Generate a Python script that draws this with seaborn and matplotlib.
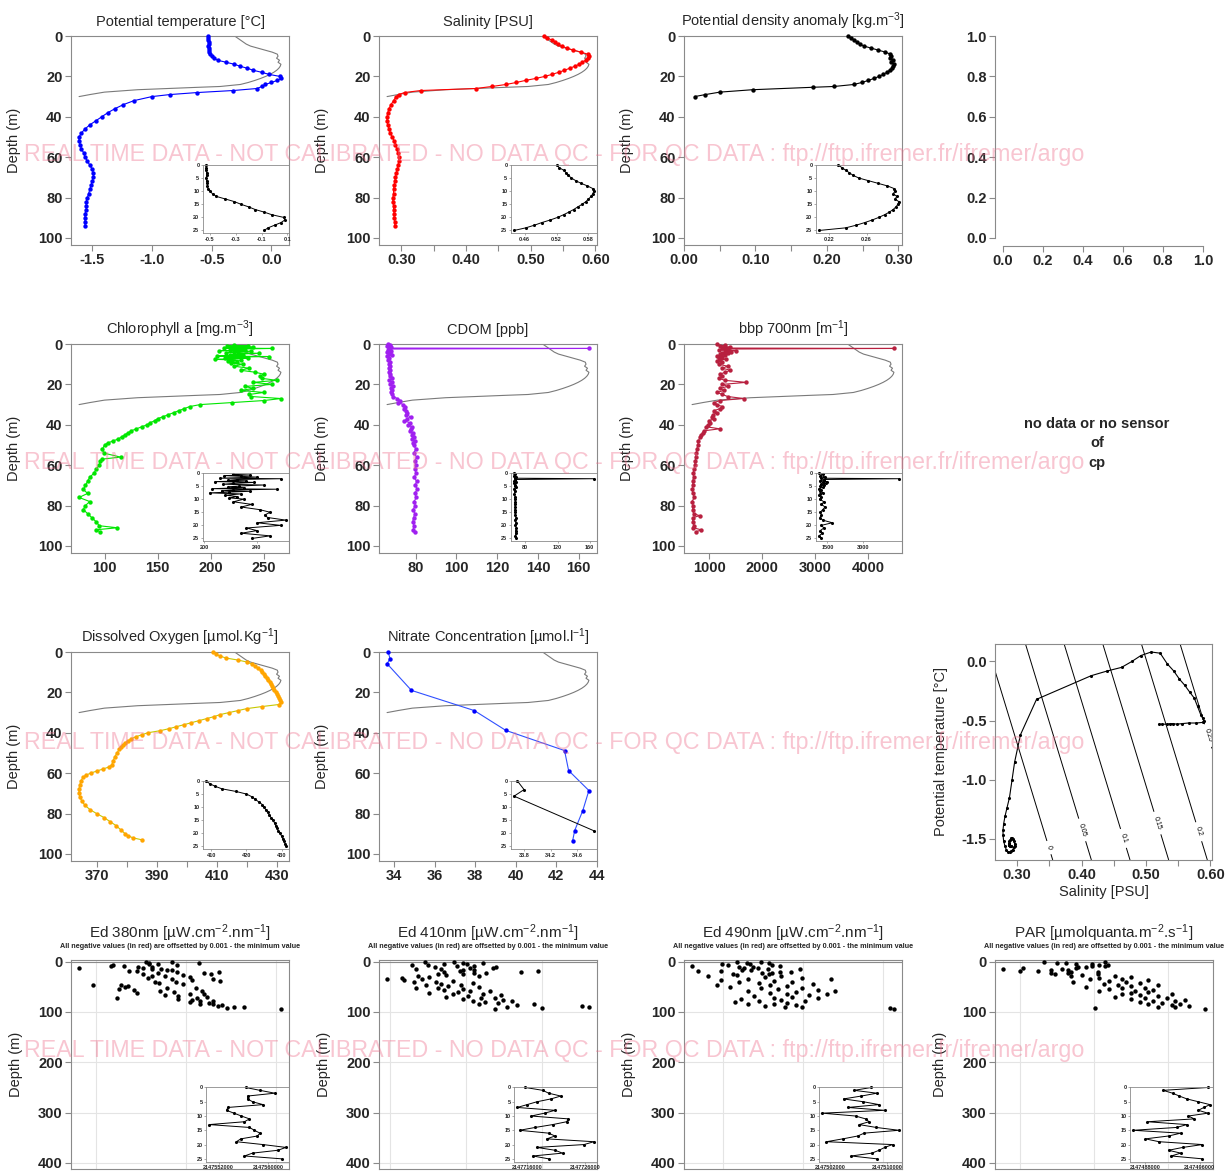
import numpy as np
import matplotlib
matplotlib.use("Agg")
import matplotlib.pyplot as plt
import seaborn as sns
from matplotlib.ticker import MaxNLocator

# ---------------- DATA ----------------
ctd_depth = [0, 1, 2, 3, 4, 5, 6, 7, 8, 9, 10, 11, 12, 13, 14, 15, 16, 17, 18, 19,
             20, 21, 22, 23, 24, 25, 26, 27, 28, 29, 30,
             32, 34, 36, 38, 40, 42, 44, 46, 48, 50, 52, 54, 56, 58, 60, 62, 64, 66, 68,
             70, 72, 74, 76, 78, 80, 82, 84, 86, 88, 90, 92, 94]
temp_val = [-0.53, -0.53, -0.53, -0.525, -0.525, -0.53, -0.525, -0.52, -0.52, -0.515,
            -0.50, -0.48, -0.45, -0.38, -0.31, -0.26, -0.20, -0.15, -0.08, -0.02,
            0.07, 0.08, 0.05, 0.00, -0.05, -0.08, -0.12, -0.32, -0.62, -0.85, -1.00,
            -1.15, -1.24, -1.31, -1.37, -1.42, -1.47, -1.52, -1.56, -1.59, -1.61,
            -1.61, -1.60, -1.59, -1.57, -1.56, -1.54, -1.52, -1.50, -1.49, -1.49,
            -1.50, -1.51, -1.52, -1.53, -1.54, -1.55, -1.55, -1.55, -1.56, -1.56,
            -1.56, -1.56]
sal_val = [0.520, 0.525, 0.533, 0.538, 0.542, 0.548, 0.556, 0.566, 0.578, 0.588,
           0.590, 0.588, 0.585, 0.580, 0.575, 0.568, 0.560, 0.552, 0.543, 0.533,
           0.522, 0.508, 0.492, 0.478, 0.462, 0.440, 0.415, 0.330, 0.305, 0.296, 0.292,
           0.288, 0.284, 0.281, 0.279, 0.278, 0.278, 0.279, 0.281, 0.283, 0.286,
           0.289, 0.291, 0.293, 0.295, 0.296, 0.296, 0.295, 0.294, 0.292, 0.291,
           0.290, 0.289, 0.288, 0.288, 0.287, 0.287, 0.288, 0.288, 0.289, 0.289,
           0.290, 0.290]

dens_depth = [0, 1, 2, 3, 4, 5, 6, 7, 8, 9, 10, 11, 12, 13, 14, 15, 16, 17, 18, 19,
              20, 21, 22, 23, 24, 25, 25.4, 26.6, 27.8, 29, 30]
dens_val = [0.230, 0.234, 0.238, 0.242, 0.246, 0.252, 0.262, 0.272, 0.282, 0.289,
            0.290, 0.288, 0.292, 0.290, 0.294, 0.293, 0.291, 0.288, 0.284, 0.279,
            0.273, 0.266, 0.258, 0.249, 0.238, 0.210, 0.180, 0.096, 0.050, 0.030, 0.015]

chla_depth = [0.5, 0.8, 1.0, 1.3, 1.6, 2.0, 2.2, 2.5, 2.8, 3.0, 3.3, 3.6, 4.0, 4.3, 4.6,
              5.0, 5.3, 5.6, 6.0, 6.2, 6.5, 6.8, 7.0, 7.3, 7.6, 8.0, 8.5, 9.0, 9.5, 10,
              11, 12, 13, 14, 15, 16, 17, 18, 19, 20, 21, 22, 23, 24, 25, 26, 27, 28, 29, 30,
              31, 32, 33, 34, 35, 36, 37, 38, 39, 40, 41, 42, 43, 44, 45, 46, 47, 48, 49, 50,
              52, 54, 56, 57, 58, 60, 62, 64, 66, 68, 70, 72, 74, 76, 78, 80, 82, 84, 86, 88,
              90, 91, 92, 93]
chla_val = [222, 235, 215, 228, 240, 212, 258, 225, 218, 232, 208, 238, 222, 214, 245,
            226, 218, 230, 206, 255, 222, 213, 235, 219, 204, 228, 216, 225, 219, 230,
            222, 236, 228, 242, 250, 246, 248, 262, 240, 258, 232, 240, 228, 250, 236,
            238, 266, 250, 220, 190, 180, 175, 170, 165, 160, 155, 150, 147, 143, 140,
            135, 130, 125, 122, 119, 116, 113, 108, 103, 100, 98, 99, 115, 98, 96,
            95, 92, 90, 86, 84, 82, 80, 84, 76, 86, 82, 80, 84, 88, 92, 95, 112, 92, 96]

cdom_depth = [0, 0.5, 1, 1.5, 2, 2.2, 2.5, 3, 3.5, 4, 4.5, 5, 5.5, 6, 7, 8, 9, 10, 11, 12,
              13, 14, 15, 16, 17, 18, 19, 20, 21, 22, 23, 24, 25, 26, 27, 28, 29, 30, 31, 32,
              33, 34, 35, 36, 37, 38, 39, 40, 41, 42, 43, 44, 45, 46, 47, 48, 49, 50, 52, 54,
              56, 58, 60, 62, 64, 66, 68, 70, 72, 74, 76, 78, 80, 82, 84, 86, 88, 90, 92, 93]
cdom_val = [66.5, 67.5, 66, 68, 66.8, 165, 67, 66.5, 68, 66, 67.5, 66.8, 68.5, 66.2, 67,
            66.5, 67.2, 66.8, 67.5, 66.7, 67.3, 66.9, 67.6, 67.2, 68.5, 67, 68.2, 67.5,
            68.8, 67.8, 68.3, 67.7, 68.5, 69, 71, 72.5, 71.5, 74, 75, 74.5, 75.5, 76, 75.5,
            77.5, 76, 74.5, 77, 76.5, 78, 77.5, 77, 78.5, 78, 79, 78.2, 79.5, 78.6, 79.2,
            80, 79.2, 80.5, 79.5, 80, 79.6, 80.3, 79.2, 80.5, 79.8, 80.8, 79.5, 80.4, 79.2,
            79.8, 78.8, 79.6, 79, 78.6, 79.2, 78.8, 79.5]

bbp_depth = [0, 0.5, 1, 1.5, 2, 2.2, 2.5, 3, 3.3, 3.6, 4, 4.3, 4.6, 5, 5.5, 6, 6.5, 7, 7.5, 8,
             8.5, 9, 10, 11, 12, 13, 14, 15, 16, 17, 18, 19, 20, 21, 22, 23, 24, 25, 26, 27,
             28, 29, 30, 31, 32, 33, 34, 35, 36, 37, 38, 39, 40, 41, 42, 43, 44, 45, 46, 48,
             50, 52, 54, 56, 58, 60, 62, 64, 66, 68, 70, 72, 74, 76, 78, 80, 82, 84, 85, 86,
             88, 90, 91, 92, 93]
bbp_val = [1150, 1300, 1200, 1400, 1250, 4480, 1350, 1180, 1500, 1300, 1420, 1250, 1350,
           1200, 1300, 1150, 1250, 1180, 1320, 1200, 1150, 1250, 1180, 1350, 1250, 1400,
           1300, 1200, 1250, 1180, 1300, 1700, 1250, 1350, 1200, 1280, 1150, 1250, 1350,
           1650, 1200, 1100, 1150, 1250, 1200, 1100, 1150, 1080, 1050, 1100, 1000, 1020,
           980, 950, 1200, 900, 880, 850, 830, 800, 790, 770, 760, 750, 740, 730, 720, 700,
           710, 690, 700, 680, 700, 720, 680, 700, 690, 710, 820, 700, 690, 720, 700, 850, 760]

doxy_depth = [0, 1, 2, 3, 4, 5, 6, 7, 8, 9, 10, 11, 12, 13, 14, 15, 16, 17, 18, 19,
              20, 21, 22, 23, 24, 25, 26, 27, 28, 29, 30, 31, 32, 33, 34, 35, 36, 37, 38, 39,
              40, 41, 42, 43, 44, 45, 46, 47, 48, 50, 52, 54, 56, 57, 58, 59, 60, 61, 62, 64,
              66, 68, 70, 72, 74, 76, 78, 80, 82, 84, 86, 88, 90, 91, 92, 93]
doxy_val = [408.5, 409.5, 411, 413, 417, 420, 421.5, 422.5, 423.5, 424.5,
            425, 425.5, 426, 426.5, 427, 427.5, 428, 428.3, 428.7, 429,
            429.5, 430, 430.3, 430.7, 431, 431.2, 430.5, 425, 420, 417,
            414, 411, 409, 406.5, 404, 401.5, 399, 396.5, 394, 391,
            387, 385, 383, 381.5, 380.5, 379.5, 378.8, 378.2, 377.6, 376.8,
            376, 375.5, 375, 374, 372, 370, 368, 366.5, 365.5, 364.8,
            364.4, 364.2, 364.2, 364.5, 365.2, 366.2, 367.8, 370, 372.5, 374.5,
            376.5, 378, 379.5, 380.5, 382, 385]

no3_depth = [0, 3.3, 5.8, 19, 29, 38.8, 48.8, 58.7, 68.6, 78.5, 88.4, 93.4]
no3_val = [33.7, 33.8, 33.65, 34.85, 37.95, 39.5, 42.4, 42.6, 43.6, 43.3, 42.9, 42.8]

rad_depth = [0, 1, 2, 3, 4, 5, 6, 7, 8, 9, 10, 11, 12, 13, 14, 15, 16, 17, 18, 19, 20,
             21, 22, 23, 24, 25, 26.5, 28, 29.5, 31, 32.5, 34, 35.5, 37, 38.5, 40, 41.5,
             43, 44.5, 46, 47.5, 49, 50.5, 52, 53.5, 55, 56.5, 58, 59.5, 61, 62.5, 64,
             65.5, 67, 68.5, 70, 71.5, 73, 74.5, 76, 77.5, 79, 80.5, 82, 83.5, 85, 86.5,
             88, 89.5, 91, 92.5, 94]
# radiometer counts: value = base + offset (offsets in thousands)
ed380_base = 2147549600
ed380_off = [6.8, 9.1, 11.5, 7.1, 7.1, 7.9, 9.6, 3.9, 3.7, 4.9, 6.1, 7.4, 6.6, 0.9, 7.4,
             8.2, 9.1, 8.7, 6.0, 5.3, 9.6, 13.3, 12.0, 7.9, 6.6, 12.6,
             10.1, 7.4, 8.5, 10.7, 7.0, 12.8, 9.1, 10.9, 13.4, 7.6, 9.5, 8.0, 10.1, 2.1,
             4.6, 5.2, 5.0, 8.7, 11.3, 4.4, 5.8, 8.1, 11.8, 9.3, 6.0, 10.7, 12.0, 8.5, 9.7,
             12.2, 4.3, 11.4, 9.7, 10.9, 12.8, 11.6, 10.7, 12.4, 11.6, 12.8, 13.6, 13.2,
             14.6, 15.5, 14.0, 18.8]
ed410_base = 2147711000
ed410_off = [4.7, 7.7, 8.7, 10.8, 9.1, 6.7, 5.0, 3.3, 9.8, 8.0, 5.7, 12.1, 11.8, 9.4, 6.4,
             3.7, 8.7, 9.8, 8.4, 16.5, 14.8, 6.7, 9.8, 11.1, 6.0, 8.7,
             6.9, 3.9, 10.4, 5.1, 2.3, 0.7, 4.4, 2.5, 7.6, 5.8, 3.5, 9.7, 6.4, 8.5, 4.8,
             7.1, 10.4, 6.0, 3.7, 8.7, 6.7, 11.5, 9.4, 8.1, 5.1, 10.8, 7.6, 12.7, 9.2, 6.9,
             10.6, 12.0, 8.7, 12.9, 9.7, 13.8, 11.0, 12.4, 16.1, 10.4, 14.3, 21.2, 21.9,
             13.3, 17.0, 12.0]
ed490_base = 2147499900
ed490_off = [7.9, 5.5, 8.7, 6.5, 4.0, 6.8, 9.0, 4.6, 9.8, 1.0, 5.7, 7.1, 7.6, 6.2, 8.6,
             11.8, 6.9, 6.0, 3.9, 1.6, 10.9, 9.8, 9.0, 8.0, 5.1, 8.7,
             5.5, 9.9, 2.6, 8.3, 12.0, 6.6, 14.9, 3.9, 9.2, 11.0, 5.7, 7.7, 13.1, 3.5, 8.8,
             10.5, 4.8, 12.0, 7.9, 9.6, 13.6, 6.6, 15.3, 11.4, 8.8, 14.5, 10.5, 12.7, 7.2,
             11.0, 13.6, 9.2, 5.9, 9.9, 12.3, 7.7, 5.3, 10.5, 6.6, 9.2, 11.4, 8.3, 10.3,
             12.0, 20.8, 21.2]
par_base = 2147485000
par_off = [12.2, 5.6, 7.0, 8.0, 9.1, 10.8, 12.5, 11.6, 10.8, 12.2, 9.3, 10.2, 3.3, 9.1,
           7.6, 1.2, 8.2, 6.4, 3.0, 5.0, 11.4, 8.5, 6.4, 8.2, 6.8, 11.4,
           9.7, 13.3, 8.5, 15.0, 11.6, 10.6, 14.0, 16.9, 12.6, 8.7, 14.5, 16.0, 12.1, 17.9,
           13.6, 15.0, 10.2, 16.5, 14.0, 12.6, 17.4, 15.5, 11.6, 16.9, 15.0, 19.4, 14.0,
           16.0, 17.9, 13.3, 18.9, 16.5, 15.0, 20.8, 17.4, 19.8, 16.0, 18.4, 20.3, 16.9,
           19.4, 21.3, 17.9, 19.8, 11.1, 23.0]

# tick labels
depth_ticks = [0, 20, 40, 60, 80, 100]
rad_depth_ticks = [0, 100, 200, 300, 400]
temp_ticks = [-1.5, -1.0, -0.5, 0.0]
sal_ticks = [0.30, 0.40, 0.50, 0.60]
sal_minor = [0.35, 0.45, 0.55]
dens_ticks = [0.00, 0.10, 0.20, 0.30]
dens_minor = [0.05, 0.15, 0.25]
chla_ticks = [100, 150, 200, 250]
cdom_ticks = [80, 100, 120, 140, 160]
bbp_ticks = [1000, 2000, 3000, 4000]
doxy_ticks = [370, 390, 410, 430]
doxy_minor = [380, 400, 420]
no3_ticks = [34, 36, 38, 40, 42, 44]
empty_ticks = [0.0, 0.2, 0.4, 0.6, 0.8, 1.0]

temp_inset_ticks = [-0.5, -0.3, -0.1, 0.1]
sal_inset_ticks = [0.46, 0.52, 0.58]
dens_inset_ticks = [0.22, 0.26]
chla_inset_ticks = [200, 240]
cdom_inset_ticks = [80, 120, 160]
bbp_inset_ticks = [1500, 3000]
doxy_inset_ticks = [410, 420, 430]
no3_inset_ticks = [33.8, 34.2, 34.6]
ed380_inset_ticks = [2147552000, 2147560000]
ed410_inset_ticks = [2147716000, 2147726000]
ed490_inset_ticks = [2147502000, 2147510000]
par_inset_ticks = [2147488000, 2147496000]

ts_levels = [0, 0.05, 0.1, 0.15, 0.2, 0.25, 0.3]
ts_label_pos = [(0.345, -1.58), (0.397, -1.43), (0.456, -1.51), (0.515, -1.37),
                (0.575, -1.45), (0.588, -0.64)]

# ---------------- STYLE ----------------
sns.set_style("white")
plt.rcParams["font.family"] = ["Liberation Sans", "DejaVu Sans"]
plt.rcParams["mathtext.default"] = "regular"
plt.rcParams["axes.unicode_minus"] = False

W, H = 1229, 1173
fig = plt.figure(figsize=(W / 100, H / 100), dpi=100)
GRAY = "#8a8a8a"
REFGRAY = "#7a7a7a"
COLS = [71, 379, 684, 995]
ROWS = [36, 344, 652, 960]
AXW, AXH = 218, 209
TICKFS = 10.5


def add_ax(l, t, w, h):
    return fig.add_axes([l / W, 1 - (t + h) / H, w / W, h / H])


def fmt(v):
    v = float(v)
    if v.is_integer():
        return str(int(v))
    return f"{v:g}"


def style_main(ax, xticks=None, xlabels=None, xminor=None, yticks=depth_ticks):
    for sp in ax.spines.values():
        sp.set_visible(True)
        sp.set_color(GRAY)
        sp.set_linewidth(0.8)
    if xticks is not None:
        ax.set_xticks(xticks, labels=xlabels, fontweight="bold", fontsize=TICKFS)
    if xminor:
        ax.set_xticks(xminor, minor=True)
    ax.set_yticks(yticks, labels=[fmt(v) for v in yticks], fontweight="bold", fontsize=TICKFS)
    ax.tick_params(which="both", direction="out", length=4, width=0.8, color=GRAY,
                   pad=2, left=True, bottom=True)
    ax.set_xlabel("")
    ax.set_ylabel("Depth (m)", fontsize=10.5)
    ax.yaxis.set_label_coords(-0.23, 0.5)


def add_inset(ax, depth, vals, ticks, rect=(0.605, 0.057, 0.395, 0.326)):
    d = np.asarray(depth, float)
    v = np.asarray(vals, float)
    m = d <= 25
    axi = ax.inset_axes(rect)
    axi.set_facecolor("none")
    sns.lineplot(x=v[m], y=d[m], sort=False, estimator=None, color="black", lw=0.7, ax=axi)
    sns.scatterplot(x=v[m], y=d[m], color="black", s=5, linewidth=0, ax=axi, clip_on=False)
    lo, hi = v[m].min(), v[m].max()
    pad = 0.04 * (hi - lo)
    lo = min(lo - pad, min(ticks) - 0.5 * pad)
    hi = max(hi + pad, max(ticks) + 0.5 * pad)
    axi.set_xlim(lo, hi)
    axi.set_ylim(26, 0)
    axi.set_xticks(ticks, labels=[fmt(t) for t in ticks], fontsize=4, fontweight="bold")
    yt = [0, 5, 10, 15, 20, 25]
    axi.set_yticks(yt, labels=[str(t) for t in yt], fontsize=4, fontweight="bold")
    axi.tick_params(direction="out", length=1.5, width=0.5, pad=1, color=GRAY,
                    left=True, bottom=True)
    for sp in axi.spines.values():
        sp.set_visible(True)
        sp.set_color(GRAY)
        sp.set_linewidth(0.6)
    axi.set_xlabel("")
    axi.set_ylabel("")
    return axi


def profile_panel(col, row, depth, vals, color, title, xticks, xlabels, xminor,
                  inset_ticks, line_color=None, ref=True):
    ax = add_ax(COLS[col], ROWS[row], AXW, AXH)
    d = np.asarray(depth, float)
    v = np.asarray(vals, float)
    lo, hi = v.min(), v.max()
    pad = 0.04 * (hi - lo)
    if ref:
        dv = np.asarray(dens_val, float)
        xr = lo + (dv - dv.min()) / (dv.max() - dv.min()) * (hi - lo)
        sns.lineplot(x=xr, y=dens_depth, sort=False, estimator=None, color=REFGRAY,
                     lw=0.8, ax=ax)
    sns.lineplot(x=v, y=d, sort=False, estimator=None, color=line_color or color,
                 lw=0.8, ax=ax)
    sns.scatterplot(x=v, y=d, color=color, s=10, linewidth=0, ax=ax, clip_on=False,
                    zorder=3)
    ax.set_xlim(lo - pad, hi + pad)
    ax.set_ylim(103.5, 0)
    style_main(ax, xticks, xlabels, xminor)
    ax.set_title(title, fontsize=10.5, pad=7)
    add_inset(ax, d, v, inset_ticks)
    return ax


# ---------------- ROW 1 ----------------
profile_panel(0, 0, ctd_depth, temp_val, "#0000ff", "Potential temperature [°C]",
              temp_ticks, [f"{t:.1f}" for t in temp_ticks], None, temp_inset_ticks)
profile_panel(1, 0, ctd_depth, sal_val, "#ff0000", "Salinity [PSU]",
              sal_ticks, [f"{t:.2f}" for t in sal_ticks], sal_minor, sal_inset_ticks)
profile_panel(2, 0, dens_depth, dens_val, "black",
              "Potential density anomaly [kg.m$^{-3}$]", dens_ticks,
              [f"{t:.2f}" for t in dens_ticks], dens_minor, dens_inset_ticks, ref=False)

# empty panel
ax = add_ax(995, 28, 216, 218)
ax.set_xlim(-0.04, 1.04)
ax.set_ylim(-0.04, 1.04)
ax.set_xticks(empty_ticks, labels=[f"{t:.1f}" for t in empty_ticks], fontweight="bold",
              fontsize=TICKFS)
ax.set_yticks(empty_ticks, labels=[f"{t:.1f}" for t in empty_ticks], fontweight="bold",
              fontsize=TICKFS)
for s in ["top", "right"]:
    ax.spines[s].set_visible(False)
for s in ["left", "bottom"]:
    ax.spines[s].set_color(GRAY)
    ax.spines[s].set_linewidth(0.8)
    ax.spines[s].set_bounds(0, 1)
ax.tick_params(direction="out", length=4, width=0.8, color=GRAY, pad=2, left=True,
               bottom=True)

# ---------------- ROW 2 ----------------
profile_panel(0, 1, chla_depth, chla_val, "#00e600", "Chlorophyll a [mg.m$^{-3}$]",
              chla_ticks, [fmt(t) for t in chla_ticks], None, chla_inset_ticks)
profile_panel(1, 1, cdom_depth, cdom_val, "#a020f0", "CDOM [ppb]",
              cdom_ticks, [fmt(t) for t in cdom_ticks], None, cdom_inset_ticks)
profile_panel(2, 1, bbp_depth, bbp_val, "#b8203f", "bbp 700nm [m$^{-1}$]",
              bbp_ticks, [fmt(t) for t in bbp_ticks], None, bbp_inset_ticks)
fig.text(1097 / W, 1 - 443 / H, "no data or no sensor\nof\ncp", ha="center",
         va="center", fontsize=10.5, fontweight="bold", linespacing=1.5)

# ---------------- ROW 3 ----------------
profile_panel(0, 2, doxy_depth, doxy_val, "#ffa500", "Dissolved Oxygen [µmol.Kg$^{-1}$]",
              doxy_ticks, [fmt(t) for t in doxy_ticks], doxy_minor, doxy_inset_ticks,
              line_color="#c8c800")
profile_panel(1, 2, no3_depth, no3_val, "#0000ff", "Nitrate Concentration [µmol.l$^{-1}$]",
              no3_ticks, [fmt(t) for t in no3_ticks], None, no3_inset_ticks,
              line_color="#3050ff")

# T-S diagram
ax = add_ax(995, 644, 217, 216)
s_arr = np.asarray(sal_val)
t_arr = np.asarray(temp_val)
slo, shi = s_arr.min(), s_arr.max()
tlo, thi = t_arr.min(), t_arr.max()
sp_, tp_ = 0.04 * (shi - slo), 0.04 * (thi - tlo)
ax.set_xlim(slo - sp_, shi + sp_)
ax.set_ylim(tlo - tp_, thi + tp_)
Sg, Tg = np.meshgrid(np.linspace(slo - sp_, shi + sp_, 200),
                     np.linspace(tlo - tp_, thi + tp_, 200))
rho_anom = 0.833 * Sg + 0.0467 * Tg - 0.2175   # linearised equation of state
cs = ax.contour(Sg, Tg, rho_anom, levels=ts_levels, colors="black", linewidths=0.7)
ax.clabel(cs, fmt=lambda v: f"{v:g}", fontsize=5, inline=True, manual=ts_label_pos)
sns.lineplot(x=s_arr, y=t_arr, sort=False, estimator=None, color="black", lw=0.8, ax=ax)
sns.scatterplot(x=s_arr, y=t_arr, color="black", s=5, linewidth=0, ax=ax, zorder=3)
for sp in ax.spines.values():
    sp.set_visible(True)
    sp.set_color(GRAY)
    sp.set_linewidth(0.8)
ax.set_xticks(sal_ticks, labels=[f"{t:.2f}" for t in sal_ticks], fontweight="bold",
              fontsize=TICKFS)
ax.set_xticks(sal_minor, minor=True)
ax.set_yticks(temp_ticks, labels=[f"{t:.1f}" for t in temp_ticks], fontweight="bold",
              fontsize=TICKFS)
ax.tick_params(which="both", direction="out", length=4, width=0.8, color=GRAY, pad=2,
               left=True, bottom=True)
ax.set_xlabel("Salinity [PSU]", fontsize=10.5, labelpad=2)
ax.set_ylabel("Potential temperature [°C]", fontsize=10.5)
ax.yaxis.set_label_coords(-0.215, 0.5)

# ---------------- ROW 4 ----------------
subtitle = "All negative values (in red) are offsetted by 0.001 - the minimum value"
ed_specs = [
    (ed380_base, ed380_off, "Ed 380nm [µW.cm$^{-2}$.nm$^{-1}$]", ed380_inset_ticks),
    (ed410_base, ed410_off, "Ed 410nm [µW.cm$^{-2}$.nm$^{-1}$]", ed410_inset_ticks),
    (ed490_base, ed490_off, "Ed 490nm [µW.cm$^{-2}$.nm$^{-1}$]", ed490_inset_ticks),
    (par_base, par_off, "PAR [µmolquanta.m$^{-2}$.s$^{-1}$]", par_inset_ticks),
]
for col, (base, offs, title, iticks) in enumerate(ed_specs):
    ax = add_ax(COLS[col], ROWS[3], AXW, AXH)
    v = base + np.asarray(offs, float) * 1000.0
    sns.scatterplot(x=v, y=rad_depth, color="black", s=10, linewidth=0, ax=ax, zorder=3)
    lo, hi = v.min(), v.max()
    pad = 0.04 * (hi - lo)
    ax.set_xlim(lo - pad, hi + pad)
    ax.set_ylim(412, -3)
    locs = [l for l in MaxNLocator(3).tick_values(lo - pad, hi + pad)
            if lo - pad < l < hi + pad]
    ax.set_xticks(locs, labels=[""] * len(locs))
    ax.grid(True, color="#e4e4e4", lw=0.8)
    ax.axhline(0, color=GRAY, lw=0.8)
    style_main(ax, yticks=rad_depth_ticks)
    ax.tick_params(axis="x", length=0)
    ax.yaxis.set_label_coords(-0.22, 0.5)
    ax.text(0.5, 1 + 27 / AXH, title, transform=ax.transAxes, ha="center", va="center",
            fontsize=11)
    ax.text(0.5, 1 + 14 / AXH, subtitle, transform=ax.transAxes, ha="center",
            va="center", fontsize=5.2, fontweight="bold")
    add_inset(ax, rad_depth, v, iticks, rect=(0.62, 0.035, 0.38, 0.355))

# ---------------- WATERMARK ----------------
wm = ("REAL TIME DATA - NOT CALIBRATED - NO DATA QC - FOR QC DATA : "
      "ftp://ftp.ifremer.fr/ifremer/argo")
t0 = fig.text(0, 0, wm, fontsize=15)
rend = fig.canvas.get_renderer()
w0 = t0.get_window_extent(rend).width
t0.remove()
wfs = 15 * 1065 / w0
for yc in [155, 462, 742, 1050]:
    fig.text(24 / W, 1 - yc / H, wm, fontsize=wfs, color="#ee6f8c", alpha=0.4,
             ha="left", va="center", zorder=20)

fig.savefig("out.png", dpi=100)
